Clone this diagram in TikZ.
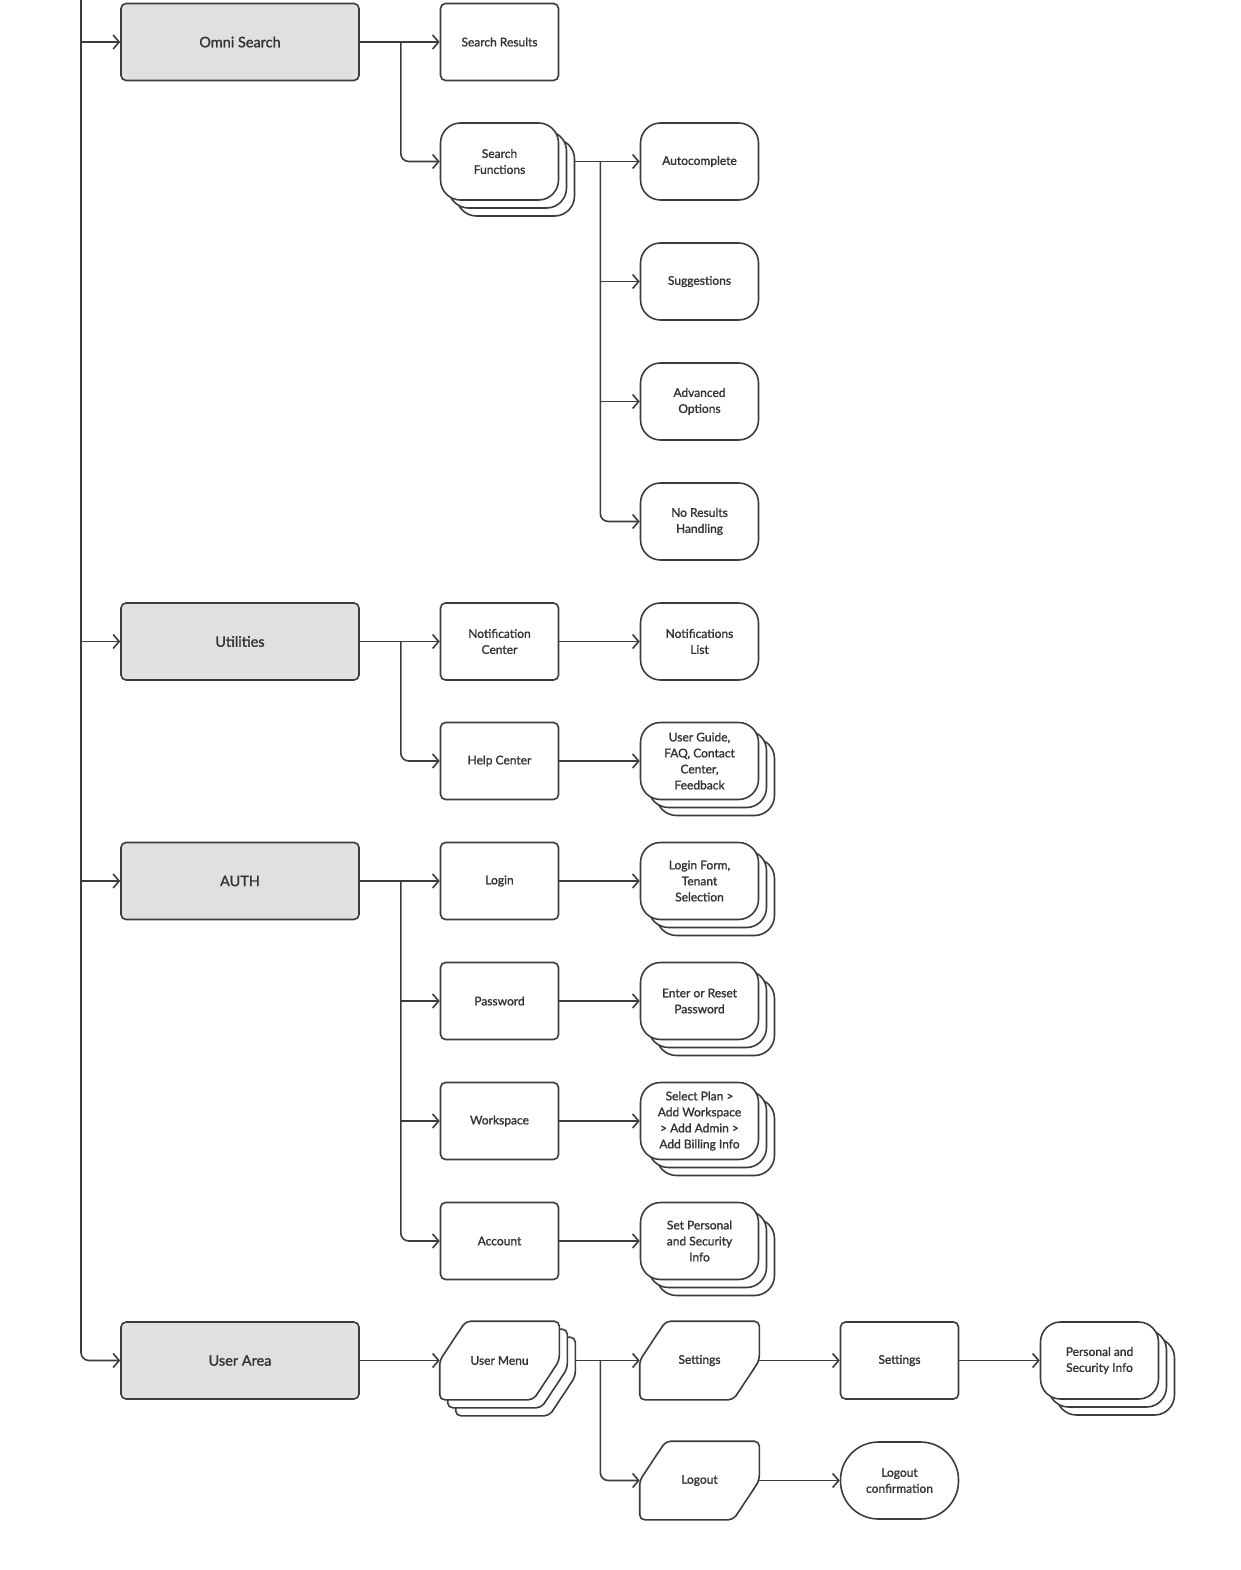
\documentclass[tikz,border=0pt]{standalone}
\usepackage{fontspec}
\setmainfont{Lato}[FakeBold=1.3]
\usepackage{tikz}
\usetikzlibrary{arrows.meta}
\usetikzlibrary{calc}
\usetikzlibrary{shadows}
\definecolor{linec}{HTML}{3C3C3C}
\definecolor{boxfill}{HTML}{E0E0E0}
\definecolor{textc}{HTML}{333333}
\pgfdeclarelayer{background}
\pgfsetlayers{background,main}

\begin{document}
\begin{tikzpicture}[x=1pt,y=-1pt]
\tikzstyle{conn}=[line width=1.6pt,draw=linec,-{Straight Barb[length=6pt,width=14pt]}]
\tikzstyle{areabox}=[draw=linec,line width=1.6pt,fill=boxfill,rounded corners=5pt,minimum width=238pt,minimum height=77pt,font=\fontsize{14.5}{17}\selectfont,text=textc]
\tikzstyle{pagebox}=[draw=linec,line width=1.6pt,fill=white,rounded corners=5pt,minimum width=118pt,minimum height=77pt,font=\fontsize{12}{16}\selectfont,text=textc,align=center]
\tikzstyle{softbox}=[pagebox,rounded corners=20pt]
\tikzstyle{pillbox}=[pagebox,rounded corners=38pt]
\tikzstyle{stacked}=[copy shadow={shadow xshift=16pt,shadow yshift=-16pt,draw=linec,fill=white,line width=1.6pt},copy shadow={shadow xshift=8pt,shadow yshift=-8pt,draw=linec,fill=white,line width=1.6pt}]
\tikzstyle{chamtext}=[pagebox,draw=none,fill=none]
\tikzstyle{chamline}=[draw=linec,line width=1.6pt,fill=white,rounded corners=5pt]

\useasboundingbox (0,0) rectangle (1240,1570);

% OMNI SEARCH
\node [areabox] (omni) at (240,42) {Omni Search};
\node [pagebox] (results) at (499.5,42) {Search Results};
\node [softbox,stacked] (functions) at (499.5,161.5) {Search\\Functions};
\node [softbox] (autocomplete) at (699.5,161.5) {Autocomplete};
\node [softbox] (suggestions) at (699.5,281.5) {Suggestions};
\node [softbox] (advanced) at (699.5,401.5) {Advanced\\Options};
\node [softbox] (noresults) at (699.5,521.5) {No Results\\Handling};

% UTILITIES
\node [areabox] (utilities) at (240,641.5) {Utilities};
\node [pagebox] (notifcenter) at (499.5,641.5) {Notification\\Center};
\node [softbox] (notiflist) at (699.5,641.5) {Notifications\\List};
\node [pagebox] (help) at (499.5,761) {Help Center};
\node [softbox,stacked] (guide) at (699.5,761) {User Guide,\\FAQ, Contact\\Center,\\Feedback};

% AUTH
\node [areabox] (auth) at (240,881) {AUTH};
\node [pagebox] (login) at (499.5,881) {Login};
\node [softbox,stacked] (loginform) at (699.5,881) {Login Form,\\Tenant\\Selection};
\node [pagebox] (password) at (499.5,1001) {Password};
\node [softbox,stacked] (reset) at (699.5,1001) {Enter or Reset\\Password};
\node [pagebox] (workspace) at (499.5,1121) {Workspace};
\node [softbox,stacked] (plan) at (699.5,1121) {Select Plan >\\Add Workspace\\> Add Admin >\\Add Billing Info};
\node [pagebox] (account) at (499.5,1241) {Account};
\node [softbox,stacked] (personal) at (699.5,1241) {Set Personal\\and Security\\Info};

% USER AREA
\node [areabox] (userarea) at (240,1360.5) {User Area};
\node [chamtext] (usermenu) at (499.5,1360.5) {User Menu};
\node [chamtext] (settings) at (699.5,1360.5) {Settings};
\node [chamtext] (logout) at (699.5,1480.5) {Logout};
\node [pagebox] (settingspage) at (899.5,1360.5) {Settings};
\node [softbox,stacked] (security) at (1099.5,1360.5) {Personal and\\Security Info};
\node [pillbox] (confirm) at (899.5,1480.5) {Logout\\confirmation};

% CHAMFERED OUTLINES
\begin{pgfonlayer}{background}
\draw [chamline,stacked] (usermenu.west) -- ($(usermenu.north west)+(26,0)$) -- (usermenu.north east) -- (usermenu.east) -- ($(usermenu.south east)+(-26,0)$) -- (usermenu.south west) -- cycle;
\draw [chamline] (settings.west) -- ($(settings.north west)+(26,0)$) -- (settings.north east) -- (settings.east) -- ($(settings.south east)+(-26,0)$) -- (settings.south west) -- cycle;
\draw [chamline] (logout.west) -- ($(logout.north west)+(26,0)$) -- (logout.north east) -- (logout.east) -- ($(logout.south east)+(-26,0)$) -- (logout.south west) -- cycle;
\end{pgfonlayer}

% MAIN TRUNK
\coordinate (top) at (81,-2);
\draw [conn,rounded corners=8pt] (top) |- (userarea.west);
\draw [conn] (top |- omni.west) -- (omni.west);
\draw [conn] (top |- utilities.west) -- (utilities.west);
\draw [conn] (top |- auth.west) -- (auth.west);

% BRANCHES
\coordinate (oj) at ($(omni.east)+(41,0)$);
\draw [conn] (omni.east) -- (results.west);
\draw [conn,rounded corners=8pt] (oj) |- (functions.west);
\coordinate (fj) at ($(functions.east)+(41,0)$);
\draw [conn] ($(functions.east)+(16,0)$) -- (autocomplete.west);
\draw [conn] (fj |- suggestions.west) -- (suggestions.west);
\draw [conn] (fj |- advanced.west) -- (advanced.west);
\draw [conn,rounded corners=8pt] (fj) |- (noresults.west);

\coordinate (uj) at ($(utilities.east)+(41,0)$);
\draw [conn] (utilities.east) -- (notifcenter.west);
\draw [conn,rounded corners=8pt] (uj) |- (help.west);
\draw [conn] (notifcenter.east) -- (notiflist.west);
\draw [conn] (help.east) -- (guide.west);

\coordinate (aj) at ($(auth.east)+(41,0)$);
\draw [conn] (auth.east) -- (login.west);
\draw [conn] (aj |- password.west) -- (password.west);
\draw [conn] (aj |- workspace.west) -- (workspace.west);
\draw [conn,rounded corners=8pt] (aj) |- (account.west);
\draw [conn] (login.east) -- (loginform.west);
\draw [conn] (password.east) -- (reset.west);
\draw [conn] (workspace.east) -- (plan.west);
\draw [conn] (account.east) -- (personal.west);

\coordinate (mj) at ($(usermenu.east)+(41,0)$);
\draw [conn] (userarea.east) -- (usermenu.west);
\draw [conn] ($(usermenu.east)+(16,0)$) -- (settings.west);
\draw [conn,rounded corners=8pt] (mj) |- (logout.west);
\draw [conn] (settings.east) -- (settingspage.west);
\draw [conn] (settingspage.east) -- (security.west);
\draw [conn] (logout.east) -- (confirm.west);

\end{tikzpicture}
\end{document}
